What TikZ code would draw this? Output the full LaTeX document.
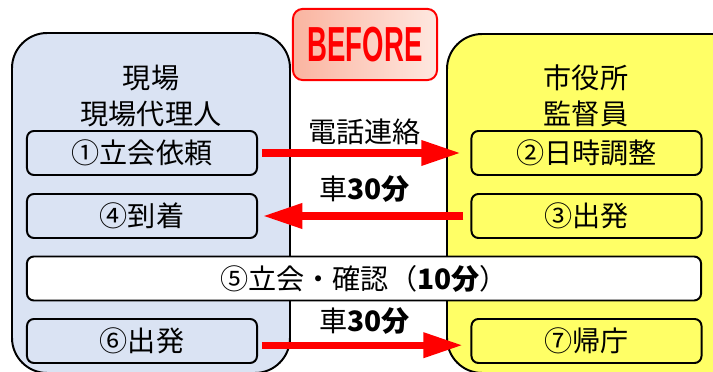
\documentclass[tikz,border=0pt]{standalone}
\usepackage{fontspec}
\setmainfont{Noto Sans CJK JP}
\newfontfamily\beforefont[FakeStretch=0.56]{Liberation Sans}
\usetikzlibrary{arrows.meta, positioning}

\definecolor{siteblue}{RGB}{218,227,243}
\definecolor{cityyellow}{RGB}{255,255,102}
\definecolor{tagred}{RGB}{255,0,0}

\tikzset{
  grp/.style={draw, line width=1.4pt, rounded corners=25pt},
  item/.style={draw, line width=1.4pt, rounded corners=5pt,
    minimum width=5.75cm, minimum height=1.1cm, inner sep=0pt,
    font=\fontsize{20pt}{24pt}\selectfont},
  flow/.style={tagred, line width=5pt,
    -{Triangle[length=28pt, width=17pt]}},
  lbl/.style={font=\fontsize{20pt}{24pt}\selectfont, inner sep=0pt, text=black}
}

\begin{document}
\begin{tikzpicture}[x=0.025cm, y=-0.025cm]
    \useasboundingbox (0,0) rectangle (713,372);
    \clip (0,0) rectangle (713,372);

    % Draw the two groups
    \draw[grp, fill=siteblue] (12,33) rectangle (290,373);
    \draw[grp, fill=cityyellow] (447,34) rectangle (760,373);

    % Group titles
    \node[lbl] (site) at (151,78) {現場};
    \node[lbl] (agent) at (151,114) {現場代理人};
    \node[lbl] (city) at (586,78) {市役所};
    \node[lbl] (super) at (586,114) {監督員};

    % BEFORE tag
    \node[draw=tagred, line width=1.4pt, rounded corners=7pt,
      left color={rgb,255:red,250;green,180;blue,160},
      right color={rgb,255:red,254;green,232;blue,224},
      minimum width=3.6cm, minimum height=1.78cm, text=tagred,
      font=\beforefont\bfseries\fontsize{35pt}{38pt}\selectfont]
      (before) at (365,44.5) {BEFORE};

    % Steps
    \node[item, fill=siteblue] (request) at (142,153) {①立会依頼};
    \node[item, fill=cityyellow] (adjust) at (586.5,153) {②日時調整};
    \node[item, fill=cityyellow] (leave) at (586.5,216) {③出発};
    \node[item, fill=siteblue] (arrive) at (142,216) {④到着};
    \node[item, fill=white, minimum width=16.85cm] (check) at (364,278.5)
      {⑤立会・確認（\textbf{10分}）};
    \node[item, fill=siteblue] (back) at (142,341) {⑥出発};
    \node[item, fill=cityyellow] (office) at (586.5,341) {⑦帰庁};

    % Arrows
    \draw[flow, shorten <=2.8pt, shorten >=7pt] (request.east) -- (adjust.west)
      node[lbl, midway, above=3pt] (phone) {電話連絡};
    \draw[flow, shorten <=5pt, shorten >=3.5pt] (leave.west) -- (arrive.east)
      node[lbl, midway, above=7pt] (car1) {車\textbf{30分}};
    \draw[flow, shorten <=2.8pt, shorten >=5.5pt] ([yshift=-3pt]back.east) -- ([yshift=-3pt]office.west)
      node[lbl, midway, above=5pt] (car2) {車\textbf{30分}};
\end{tikzpicture}
\end{document}
